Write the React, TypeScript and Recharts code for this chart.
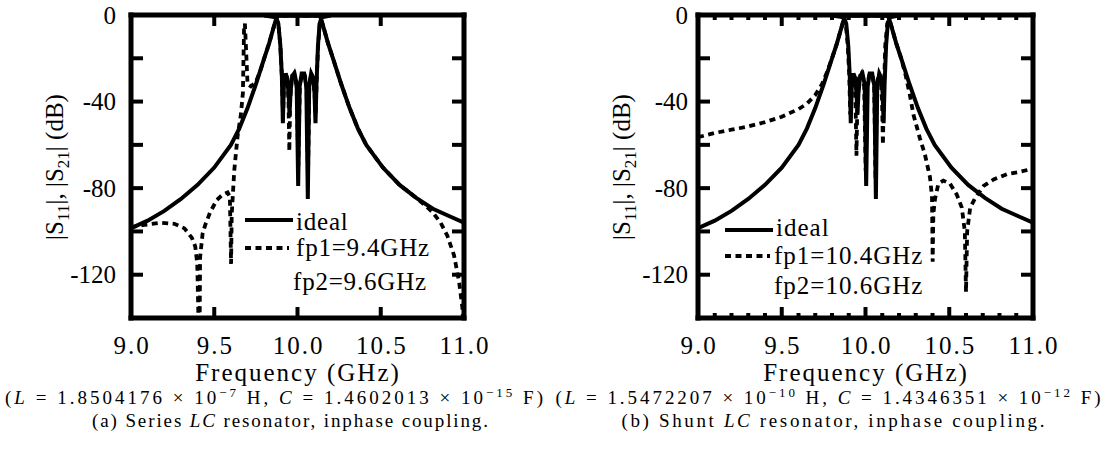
import React from 'react'
import { LineChart, Line, XAxis, YAxis } from 'recharts'

const SERIF = 'Liberation Serif, DejaVu Serif, serif'
const TXT = { fontFamily: SERIF }

type Pt = [number, number]

// frequency (GHz), magnitude (dB) — ideal response, same in both panels
const idealS21: Pt[] = [
  [9.0, -98.5], [9.1, -95], [9.2, -90.5], [9.3, -85], [9.4, -78.5], [9.5, -70.5],
  [9.6, -60], [9.65, -52.5], [9.7, -43], [9.75, -32], [9.8, -20], [9.83, -13],
  [9.85, -7.5], [9.865, -3.5], [9.878, -0.3], [10.0, -0.3], [10.135, -0.3],
  [10.148, -3.5], [10.163, -7.5], [10.183, -13], [10.213, -20], [10.263, -32],
  [10.313, -43], [10.363, -52.5], [10.413, -60], [10.513, -70.5], [10.613, -78.5],
  [10.713, -84.5], [10.813, -89.5], [10.913, -93], [11.0, -96],
]
const idealS11: Pt[] = [
  [9.8, -0.2], [9.87, -1], [9.885, -4], [9.897, -14], [9.906, -28], [9.912, -50],
  [9.918, -33], [9.928, -27], [9.938, -29], [9.946, -36], [9.952, -46], [9.958, -36],
  [9.968, -28], [9.982, -27], [9.995, -32], [10.004, -79], [10.013, -33], [10.025, -27],
  [10.04, -27], [10.053, -33], [10.062, -85], [10.07, -33], [10.082, -27], [10.094, -29],
  [10.102, -36], [10.108, -50], [10.114, -32], [10.123, -14], [10.133, -4], [10.145, -1],
  [10.2, -0.2],
]

// (a) series LC resonator, fp1 = 9.4 GHz, fp2 = 9.6 GHz
const seriesS21: Pt[] = [
  [9.0, -98], [9.08, -97], [9.18, -96], [9.26, -96.5], [9.32, -98.5], [9.366, -103],
  [9.386, -107], [9.398, -115], [9.405, -140], [9.41, -170], [9.415, -112], [9.43, -101],
  [9.446, -97], [9.476, -91], [9.516, -85.4], [9.55, -83], [9.58, -82], [9.594, -84],
  [9.601, -115], [9.605, -92], [9.62, -72], [9.64, -56], [9.66, -46], [9.672, -36],
  [9.679, -6], [9.684, -4], [9.69, -14], [9.7, -32], [9.72, -33], [9.75, -31],
  [9.78, -25], [9.8, -20], [9.83, -13], [9.85, -7.5], [9.865, -3.5], [9.878, -0.3],
  [10.135, -0.3], [10.148, -3.5], [10.163, -7.5], [10.183, -13], [10.213, -20],
  [10.263, -32], [10.313, -43], [10.363, -52.5], [10.413, -60], [10.513, -70.5],
  [10.613, -78.5], [10.713, -84.5], [10.76, -87.5], [10.81, -91], [10.86, -96],
  [10.9, -102], [10.94, -111], [10.97, -123], [10.99, -135], [11.0, -150],
]
const seriesS11: Pt[] = [
  [9.87, -1], [9.885, -4], [9.897, -14], [9.906, -28], [9.913, -46], [9.919, -32],
  [9.929, -27], [9.94, -30], [9.946, -40], [9.951, -63], [9.956, -40], [9.965, -29],
  [9.98, -27], [9.995, -33], [10.005, -70], [10.014, -32], [10.03, -27], [10.045, -28],
  [10.055, -34], [10.063, -75], [10.071, -32], [10.083, -27], [10.095, -30],
  [10.103, -37], [10.109, -46], [10.115, -30], [10.124, -14], [10.134, -4], [10.145, -1],
]

// (b) shunt LC resonator, fp1 = 10.4 GHz, fp2 = 10.6 GHz
const shuntS21: Pt[] = [
  [9.0, -56.5], [9.1, -54.5], [9.2, -53], [9.3, -51.5], [9.4, -49.5], [9.5, -47],
  [9.6, -43.5], [9.65, -41], [9.7, -37], [9.74, -32], [9.77, -26.5], [9.8, -20],
  [9.83, -13], [9.85, -7.5], [9.865, -3.5], [9.878, -0.3], [10.135, -0.3],
  [10.148, -3.5], [10.163, -7.5], [10.183, -13], [10.213, -20], [10.24, -28],
  [10.265, -37], [10.286, -46], [10.325, -57], [10.355, -64.5], [10.385, -75],
  [10.397, -84], [10.401, -114], [10.405, -92], [10.415, -85], [10.435, -78],
  [10.465, -76.5], [10.505, -78], [10.545, -83], [10.575, -89], [10.593, -100],
  [10.6, -128], [10.607, -100], [10.625, -89], [10.655, -84.5], [10.705, -79],
  [10.765, -76], [10.845, -73.5], [10.92, -72.5], [11.0, -71],
]
const shuntS11: Pt[] = [
  [9.87, -1], [9.882, -4], [9.894, -14], [9.903, -28], [9.909, -46], [9.915, -32],
  [9.925, -27], [9.935, -31], [9.941, -42], [9.946, -65], [9.951, -42], [9.961, -29],
  [9.976, -27], [9.992, -33], [10.001, -72], [10.01, -32], [10.025, -27], [10.042, -28],
  [10.052, -34], [10.06, -76], [10.068, -32], [10.08, -27], [10.092, -31], [10.099, -40],
  [10.104, -60], [10.109, -38], [10.118, -14], [10.13, -4], [10.142, -1],
]

const majorFreqTicks = [9.0, 9.5, 10.0, 10.5, 11.0]
const minorFreqTicks = [
  9.0, 9.1, 9.2, 9.3, 9.4, 9.5, 9.6, 9.7, 9.8, 9.9, 10.0,
  10.1, 10.2, 10.3, 10.4, 10.5, 10.6, 10.7, 10.8, 10.9, 11.0,
]
const dbTicks = [0, -20, -40, -60, -80, -100, -120, -140]
const dbLabels = [0, -40, -80, -120]

const toRows = (pts: Pt[]) => pts.map(([f, db]) => ({ f, db }))

const PLOT_TOP = 15
const PLOT_BOTTOM = 318
const BORDER = { stroke: '#000', strokeWidth: 5, strokeLinecap: 'square' as const }

const isMajor = (v: number) => Math.abs(v * 2 - Math.round(v * 2)) < 1e-6

const xTick = (side: 'top' | 'bottom', withLabel: boolean) => (props: any) => {
  const { x, y, payload } = props
  const v = payload.value as number
  const major = isMajor(v)
  const len = major ? 11 : 5
  const dir = side === 'bottom' ? -1 : 1
  return (
    <g>
      <line x1={x} x2={x} y1={y} y2={y + dir * len} stroke="#000" strokeWidth={4} />
      {withLabel && major && (
        <text x={x + 1} y={y + 36} textAnchor="middle" style={TXT} fontSize={25}
          letterSpacing={2} fill="#000">
          {v.toFixed(1)}
        </text>
      )}
    </g>
  )
}

const yTick = (side: 'left' | 'right', gap: number) => (props: any) => {
  const { x, y, payload } = props
  const v = payload.value as number
  const dir = side === 'left' ? 1 : -1
  return (
    <g>
      <line x1={x} x2={x + dir * 12} y1={y} y2={y} stroke="#000" strokeWidth={4} />
      {side === 'left' && dbLabels.includes(v) && (
        <text x={x - gap} y={y + 8.5} textAnchor="end" style={TXT} fontSize={25} fill="#000">
          {v}
        </text>
      )}
    </g>
  )
}

interface PanelProps {
  left: number
  width: number
  plotLeft: number
  plotRight: number
  labelGap: number
  freqTicks: number[]
  s21: Pt[]
  s11: Pt[]
}

function Panel({ left, width, plotLeft, plotRight, labelGap, freqTicks, s21, s11 }: PanelProps) {
  const axisProps = {
    type: 'number' as const,
    dataKey: 'f',
    domain: [9, 11] as [number, number],
    allowDataOverflow: true,
    ticks: freqTicks,
    interval: 0 as const,
    height: 1,
    tickSize: 0,
    tickMargin: 0,
    tickLine: false,
    axisLine: BORDER,
  }
  const yProps = {
    type: 'number' as const,
    domain: [-140, 0] as [number, number],
    allowDataOverflow: true,
    ticks: dbTicks,
    interval: 0 as const,
    width: 1,
    tickSize: 0,
    tickMargin: 0,
    tickLine: false,
    axisLine: BORDER,
  }
  const solid = { type: 'linear' as const, dataKey: 'db', stroke: '#000', strokeWidth: 4, dot: false, isAnimationActive: false }
  const dotted = { ...solid, strokeWidth: 3.8, strokeDasharray: '6 4.5' }
  return (
    <div style={{ position: 'absolute', left, top: 0 }}>
      <LineChart
        width={width}
        height={450}
        margin={{ top: PLOT_TOP - 1, bottom: 450 - PLOT_BOTTOM - 1, left: plotLeft - 1, right: width - plotRight - 1 }}
      >
        <XAxis xAxisId="b" orientation="bottom" {...axisProps} tick={xTick('bottom', true)} />
        <XAxis xAxisId="t" orientation="top" {...axisProps} tick={xTick('top', false)} />
        <YAxis yAxisId="l" orientation="left" {...yProps} tick={yTick('left', labelGap)} />
        <YAxis yAxisId="r" orientation="right" {...yProps} tick={yTick('right', 0)} />
        <Line xAxisId="b" yAxisId="l" data={toRows(idealS21)} {...solid} />
        <Line xAxisId="b" yAxisId="l" data={toRows(idealS11)} {...solid} />
        <Line xAxisId="b" yAxisId="l" data={toRows(s21)} {...dotted} />
        <Line xAxisId="b" yAxisId="l" data={toRows(s11)} {...dotted} />
      </LineChart>
    </div>
  )
}

function YTitle({ x }: { x: number }) {
  return (
    <text transform={`translate(${x},167) rotate(-90)`} textAnchor="middle" fontSize={25} style={TXT}>
      |S<tspan fontSize={17} dy={6}>11</tspan>
      <tspan dy={-6}>|, |S</tspan>
      <tspan fontSize={17} dy={6}>21</tspan>
      <tspan dy={-6}>| (dB)</tspan>
    </text>
  )
}

export default function App() {
  return (
    <div style={{ position: 'absolute', left: 0, top: 0, width: 1109, height: 450, background: '#fff', fontFamily: SERIF }}>
      <Panel left={0} width={555} plotLeft={131} plotRight={464} labelGap={15}
        freqTicks={majorFreqTicks} s21={seriesS21} s11={seriesS11} />
      <Panel left={555} width={554} plotLeft={143} plotRight={478} labelGap={10}
        freqTicks={minorFreqTicks} s21={shuntS21} s11={shuntS11} />
      <svg width={1109} height={450} style={{ position: 'absolute', left: 0, top: 0, pointerEvents: 'none', fontFamily: SERIF }}
        fill="#000">
        <YTitle x={63} />
        <YTitle x={630} />

        {/* legend (a) */}
        <line x1={245} x2={293} y1={220} y2={220} stroke="#000" strokeWidth={4} />
        <text x={296} y={230} fontSize={25} letterSpacing={0.8} style={TXT}>ideal</text>
        <line x1={245} x2={289} y1={248} y2={248} stroke="#000" strokeWidth={3.8} strokeDasharray="6 4.5" />
        <text x={296} y={256} fontSize={25} letterSpacing={0.8} style={TXT}>fp1=9.4GHz</text>
        <text x={293} y={290} fontSize={25} letterSpacing={0.8} style={TXT}>fp2=9.6GHz</text>

        {/* legend (b) */}
        <line x1={725} x2={773} y1={230} y2={230} stroke="#000" strokeWidth={4} />
        <text x={776} y={236} fontSize={25} letterSpacing={1} style={TXT}>ideal</text>
        <line x1={725} x2={770} y1={256} y2={256} stroke="#000" strokeWidth={3.8} strokeDasharray="6 4.5" />
        <text x={774} y={264} fontSize={25} letterSpacing={1} style={TXT}>fp1=10.4GHz</text>
        <text x={774} y={294} fontSize={25} letterSpacing={1} style={TXT}>fp2=10.6GHz</text>

        <text x={298} y={381} textAnchor="middle" fontSize={25} letterSpacing={2} style={TXT}>Frequency (GHz)</text>
        <text x={866} y={381} textAnchor="middle" fontSize={25} letterSpacing={2} style={TXT}>Frequency (GHz)</text>

        <text x={274} y={404} textAnchor="middle" fontSize={19} style={TXT} textLength={538} lengthAdjust="spacing">
          (<tspan fontStyle="italic">L</tspan> = 1.8504176 × 10<tspan dy={-7} fontSize={13}>−7</tspan><tspan dy={7}> H, </tspan><tspan fontStyle="italic">C</tspan> = 1.4602013 × 10<tspan dy={-7} fontSize={13}>−15</tspan><tspan dy={7}> F)</tspan>
        </text>
        <text x={290} y={427} textAnchor="middle" fontSize={19} style={TXT} textLength={396} lengthAdjust="spacing">
          (a) Series <tspan fontStyle="italic">LC</tspan> resonator, inphase coupling.
        </text>
        <text x={828} y={404} textAnchor="middle" fontSize={19} style={TXT} textLength={545} lengthAdjust="spacing">
          (<tspan fontStyle="italic">L</tspan> = 1.5472207 × 10<tspan dy={-7} fontSize={13}>−10</tspan><tspan dy={7}> H, </tspan><tspan fontStyle="italic">C</tspan> = 1.4346351 × 10<tspan dy={-7} fontSize={13}>−12</tspan><tspan dy={7}> F)</tspan>
        </text>
        <text x={833} y={427} textAnchor="middle" fontSize={19} style={TXT} textLength={423} lengthAdjust="spacing">
          (b) Shunt <tspan fontStyle="italic">LC</tspan> resonator, inphase coupling.
        </text>
      </svg>
    </div>
  )
}
